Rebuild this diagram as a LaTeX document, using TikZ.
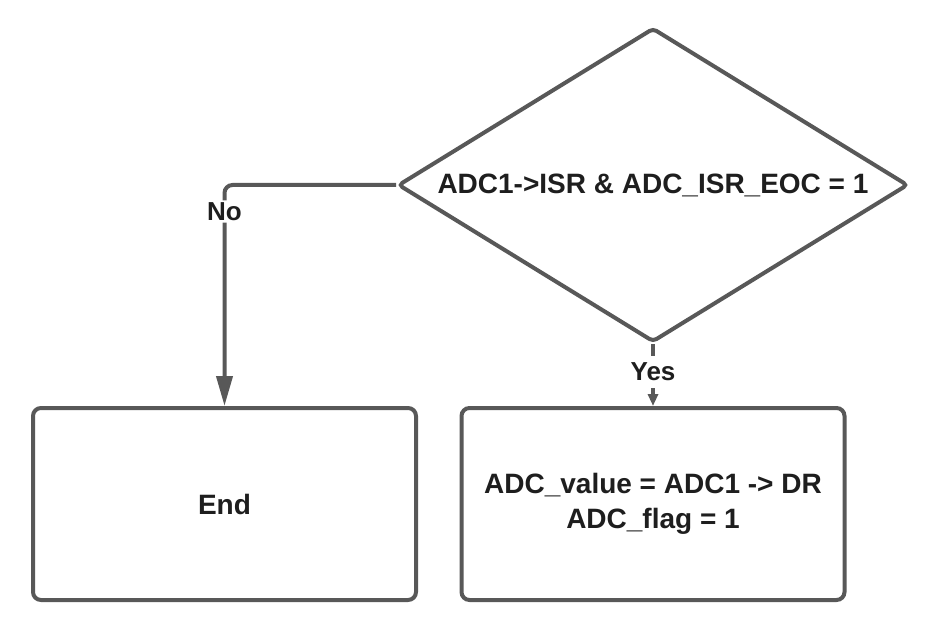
\documentclass[tikz,border=0pt]{standalone}
\usepackage{fontspec}
\setmainfont{Liberation Sans}
\definecolor{LineGray}{RGB}{88,88,88}
\definecolor{TextGray}{RGB}{30,30,30}
\usetikzlibrary{arrows.meta, shapes.geometric, positioning}
\tikzstyle{box} = [draw=LineGray, line width=4pt, rounded corners=8pt, minimum width=383pt, minimum height=192pt, inner sep=0pt, align=center, text=TextGray, font=\fontsize{28}{35}\selectfont\bfseries]
\tikzstyle{decision} = [draw=LineGray, line width=4pt, diamond, aspect=1.62, minimum width=510pt, minimum height=314pt, inner sep=0pt, rounded corners=4pt, text=TextGray, font=\fontsize{28}{34}\selectfont\bfseries]
\tikzstyle{arrow} = [draw=LineGray, line width=4pt]
\tikzstyle{label} = [fill=white, inner sep=2pt, text=TextGray, font=\fontsize{26}{30}\selectfont\bfseries]

\begin{document}
\begin{tikzpicture}[x=1pt, y=-1pt]
    \useasboundingbox (0,0) rectangle (931,620);
    \node[decision] (check) at (653,185) {ADC1->ISR \& ADC\_ISR\_EOC = 1};
    \node[box] (done) at (224.5,504) {End};
    \node[box] (store) at (653,504) {ADC\_value = ADC1 -> DR\\ADC\_flag = 1};
    % no branch
    \draw[arrow, rounded corners=8pt, -{Triangle[length=30pt, width=16pt]}] (check.west) -| (done.north)
        node[label, pos=0.56] {No};
    % yes branch
    \draw[arrow, -{Triangle[length=12pt, width=10pt]}] (check.south) -- (store.north)
        node[label, pos=0.45, inner sep=7pt] {Yes};
\end{tikzpicture}
\end{document}
